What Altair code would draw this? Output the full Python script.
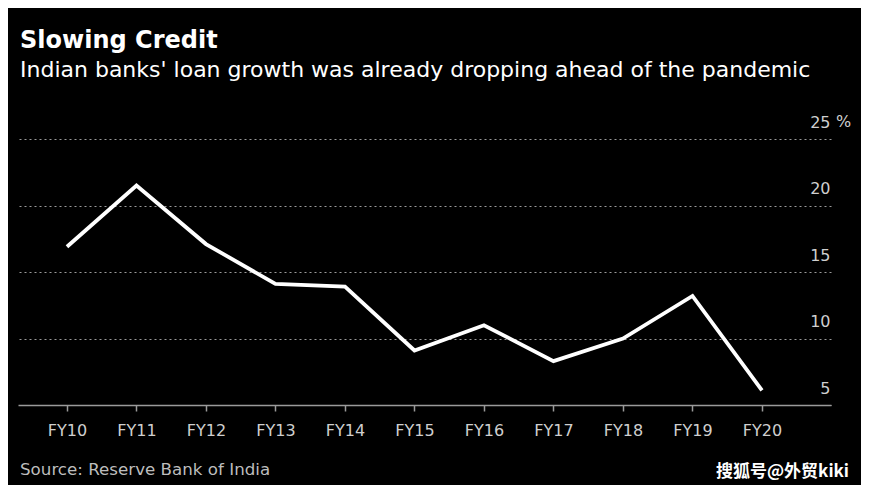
import altair as alt
import pandas as pd

years = ["FY10", "FY11", "FY12", "FY13", "FY14", "FY15", "FY16", "FY17", "FY18", "FY19", "FY20"]
growth = [16.9, 21.5, 17.1, 14.1, 13.9, 9.1, 11.0, 8.3, 10.0, 13.2, 6.1]
y_ticks = [5, 10, 15, 20, 25]

title_text = "Slowing Credit"
subtitle_text = "Indian banks' loan growth was already dropping ahead of the pandemic"
source_text = "Source: Reserve Bank of India"
watermark_text = "搜狐号@外贸kiki"

df = pd.DataFrame({"year": years, "growth": growth})

W, H = 813, 266
FONT = "DejaVu Sans"

x_enc = alt.X(
    "year:O",
    sort=years,
    scale=alt.Scale(type="point", padding=0.849, align=0.415),
    axis=alt.Axis(
        title=None, labelAngle=0, grid=False,
        domainColor="#9a9a9a", domainWidth=1.5,
        tickColor="#9a9a9a", tickSize=6, tickWidth=1.5,
        labelColor="#cfcfcf", labelFontSize=16, labelFont=FONT, labelPadding=11,
    ),
)
y_enc = alt.Y(
    "growth:Q",
    scale=alt.Scale(domain=[5, 25], nice=False, zero=False),
    axis=alt.Axis(
        title=None, orient="right", values=y_ticks, domain=False, ticks=False,
        grid=True, gridColor="#9a9a9a", gridDash=[2, 3], gridWidth=1,
        labelAlign="right", labelPadding=-1, labelBaseline="alphabetic",
        labelOffset=-12, labelColor="#cfcfcf", labelFontSize=16, labelFont=FONT,
    ),
)

line = alt.Chart(df).mark_line(color="white", strokeWidth=3.8, strokeJoin="miter").encode(
    x=x_enc, y=y_enc
)

pct = alt.Chart(pd.DataFrame({"v": [25], "t": ["%"]})).mark_text(
    align="left", baseline="alphabetic", dx=5, dy=-12, fontSize=16, font=FONT, color="#cfcfcf"
).encode(x=alt.value(W), y=alt.Y("v:Q", scale=alt.Scale(domain=[5, 25], nice=False, zero=False)), text="t:N")

src = alt.Chart(pd.DataFrame({"t": [source_text]})).mark_text(
    align="left", baseline="alphabetic", fontSize=16.7, font=FONT, color="#bdbdbd"
).encode(x=alt.value(2), y=alt.value(H + 70), text="t:N")

wm = alt.Chart(pd.DataFrame({"t": [watermark_text]})).mark_text(
    align="left", baseline="alphabetic", fontSize=17, font="Noto Sans CJK SC", color="white", fontWeight="bold"
).encode(x=alt.value(698), y=alt.value(H + 72), text="t:N")

chart = alt.layer(line, pct, src, wm).properties(
    width=W, height=H,
    autosize=alt.AutoSizeParams(type="none"),
    padding={"left": 10, "top": 131, "right": 30, "bottom": 80},
    background="black",
    title=alt.TitleParams(
        text=title_text, subtitle=subtitle_text, anchor="start", frame="group",
        font=FONT, fontSize=24, fontWeight="bold", color="white",
        subtitleFont=FONT, subtitleFontSize=22, subtitleColor="white",
        subtitlePadding=7, offset=33, dx=2,
    ),
).configure_view(stroke=None)

chart.save("out.html", embed_options={"renderer": "svg", "actions": False})
